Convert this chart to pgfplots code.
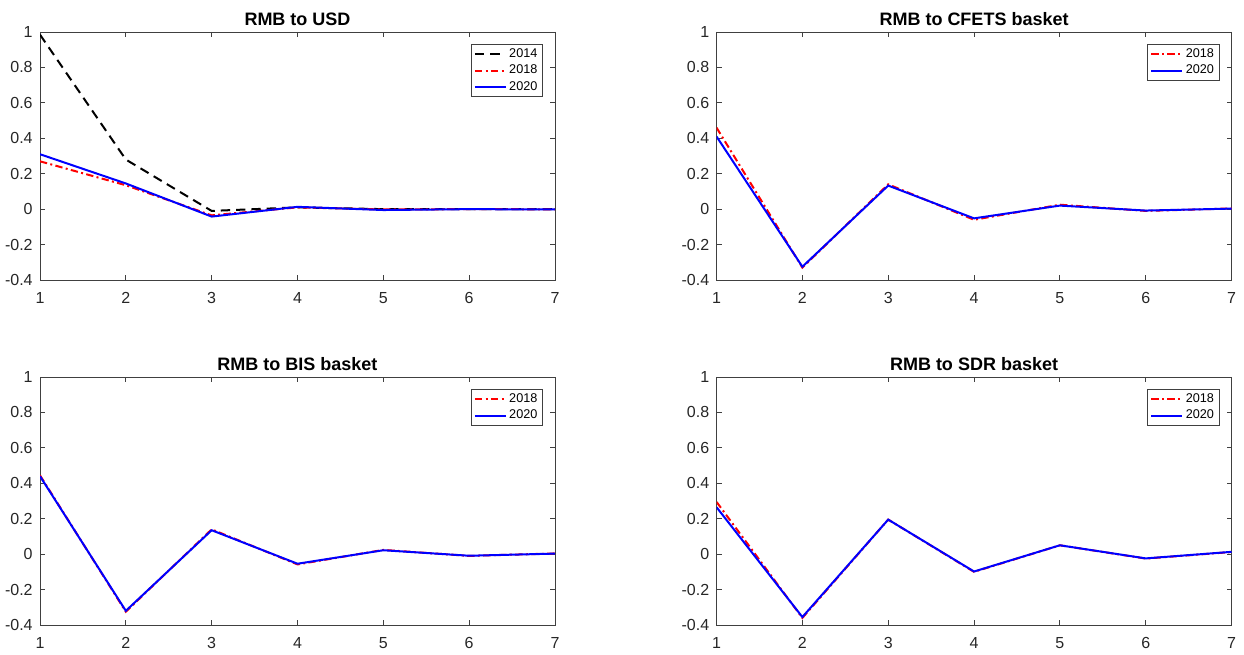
\documentclass[border=0pt]{standalone}
\usepackage{fontspec}
\setmainfont{Liberation Sans}
\usepackage{pgfplots}
\pgfplotsset{compat=1.18}
\definecolor{axgray}{gray}{0.25}
\pgfplotsset{
  mstyle/.style={
    scale only axis, width=386.25pt, height=186pt,
    xmin=1, xmax=7, ymin=-0.4, ymax=1,
    xtick={1,...,7}, ytick={-0.4,-0.2,0,0.2,0.4,0.6,0.8,1},
    yticklabels={-0.4,-0.2,0,0.2,0.4,0.6,0.8,1},
    /pgf/number format/assume math mode=true,
    tick align=inside, tick pos=both, major tick length=3.75pt,
    axis line style={axgray, line width=0.6pt},
    every tick/.style={axgray, line width=0.6pt},
    ticklabel style={font=\fontsize{12}{14}\selectfont, text=black!85},
    xticklabel style={yshift=-5.5pt},
    yticklabel style={xshift=-2pt},
    title style={font=\bfseries\fontsize{13.5}{15}\selectfont, yshift=-4.5pt},
    legend cell align=left,
    legend style={at={(0.977,0.952)}, anchor=north east, draw=black!75, line width=0.6pt,
      font=\fontsize{9.5}{11.5}\selectfont, inner xsep=2pt, inner ysep=1.5pt,
      row sep=0pt},
    legend image code/.code={\draw[#1] (0pt,0pt) -- (23pt,0pt);},
  },
  l14/.style={black, line width=1.5pt, dash pattern=on 7pt off 4.5pt},
  l18/.style={red, line width=1.5pt, dash pattern=on 5.5pt off 2.5pt on 1.5pt off 2.5pt},
  l20/.style={blue, line width=1.5pt},
}
\begin{document}
\begin{tikzpicture}[x=1pt,y=1pt]
\useasboundingbox (0,0) rectangle (933pt,490.5pt);
% top left
\begin{axis}[mstyle, at={(30pt,280.5pt)}, anchor=south west, title={RMB to USD}]
\addplot[l14] coordinates {(1,0.985) (2,0.28) (3,-0.01) (4,0.01) (5,0.0) (6,0.0) (7,0.0)};
\addlegendentry{2014}
\addplot[l18] coordinates {(1,0.27) (2,0.135) (3,-0.035) (4,0.01) (5,-0.002) (6,0.0) (7,-0.001)};
\addlegendentry{2018}
\addplot[l20] coordinates {(1,0.31) (2,0.145) (3,-0.042) (4,0.013) (5,-0.005) (6,0.0) (7,-0.002)};
\addlegendentry{2020}
\end{axis}
% top right
\begin{axis}[mstyle, at={(537.4pt,280.5pt)}, anchor=south west, title={RMB to CFETS basket}]
\addplot[l18] coordinates {(1,0.46) (2,-0.33) (3,0.14) (4,-0.06) (5,0.025) (6,-0.01) (7,0.004)};
\addlegendentry{2018}
\addplot[l20] coordinates {(1,0.41) (2,-0.325) (3,0.133) (4,-0.052) (5,0.02) (6,-0.008) (7,0.003)};
\addlegendentry{2020}
\end{axis}
% bottom left
\begin{axis}[mstyle, at={(30pt,21.75pt)}, anchor=south west, title={RMB to BIS basket}]
\addplot[l18] coordinates {(1,0.445) (2,-0.325) (3,0.14) (4,-0.058) (5,0.024) (6,-0.01) (7,0.004)};
\addlegendentry{2018}
\addplot[l20] coordinates {(1,0.44) (2,-0.32) (3,0.135) (4,-0.054) (5,0.022) (6,-0.009) (7,0.003)};
\addlegendentry{2020}
\end{axis}
% bottom right
\begin{axis}[mstyle, at={(537.4pt,21.75pt)}, anchor=south west, title={RMB to SDR basket}]
\addplot[l18] coordinates {(1,0.295) (2,-0.36) (3,0.195) (4,-0.1) (5,0.05) (6,-0.025) (7,0.012)};
\addlegendentry{2018}
\addplot[l20] coordinates {(1,0.265) (2,-0.355) (3,0.195) (4,-0.098) (5,0.05) (6,-0.024) (7,0.013)};
\addlegendentry{2020}
\end{axis}
\end{tikzpicture}
\end{document}
